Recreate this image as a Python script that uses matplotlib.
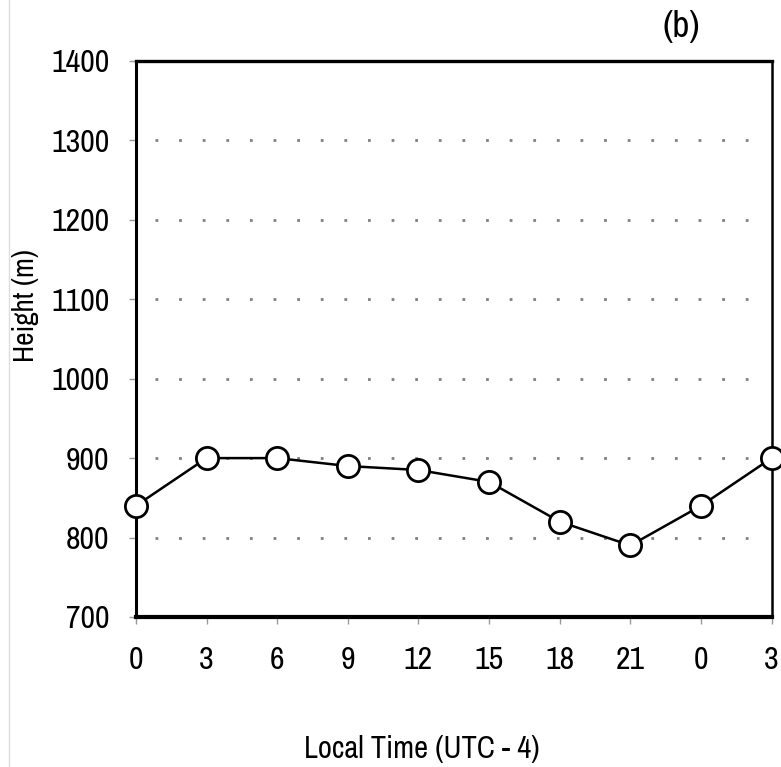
import matplotlib
matplotlib.use("Agg")
import matplotlib.pyplot as plt
from matplotlib.lines import Line2D

plt.rcParams['font.family'] = ['Archivo Narrow', 'Liberation Sans', 'DejaVu Sans']

# hours elapsed since first sample (3-hourly), and the local-time labels
hours = [0, 3, 6, 9, 12, 15, 18, 21, 24, 27]
hour_labels = ['0', '3', '6', '9', '12', '15', '18', '21', '0', '3']
height_m = [840, 900, 900, 890, 885, 870, 820, 790, 840, 900]
y_ticks = [700, 800, 900, 1000, 1100, 1200, 1300, 1400]

fig = plt.figure(figsize=(7.81, 7.67), dpi=100)
ax = fig.add_axes([0.174, 0.1956, 0.814, 0.725])

# dotted grid lines (inner levels only)
for y in y_ticks[1:-1]:
    ax.axhline(y, xmin=0.03, xmax=0.985, color='#808080', linestyle=(0, (1, 7.5)),
               linewidth=2, zorder=1)

ax.plot(hours, height_m, color='black', linewidth=1.8, marker='o',
        markersize=16, markerfacecolor='white', markeredgecolor='black',
        markeredgewidth=2, clip_on=False, zorder=3)

ax.set_xlim(0, 27)
ax.set_ylim(700, 1400)
ax.set_xticks(hours)
ax.set_xticklabels(hour_labels)
ax.set_yticks(y_ticks)

ax.spines['left'].set_linewidth(2.2)
ax.spines['top'].set_linewidth(2.4)
ax.spines['right'].set_linewidth(1.8)
ax.spines['bottom'].set_linewidth(3)

ax.tick_params(axis='both', which='major', labelsize=23, length=5, width=1,
               color='#999999', direction='out')
ax.tick_params(axis='x', pad=16)
ax.tick_params(axis='y', pad=14)

fig.text(0.033, 0.602, 'Height (m)', fontsize=21, rotation=90,
         ha='center', va='center')
fig.text(0.54, 0.024, 'Local Time (UTC - 4)', fontsize=22,
         ha='center', va='center')
fig.text(0.872, 0.965, '(b)', fontsize=27, ha='center', va='center')

# faint border line at the left edge of the scanned panel
fig.add_artist(Line2D([0.011, 0.011], [0.0, 1.0], color='#dddddd', linewidth=1))

fig.savefig('out.png', dpi=100)
